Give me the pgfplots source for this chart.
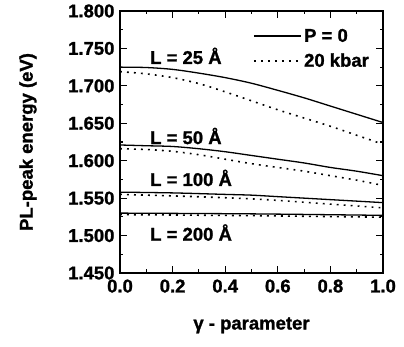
\documentclass[border=0pt]{standalone}
\usepackage{pgfplots}
\pgfplotsset{compat=1.18}
\usepackage{fontspec}
\setmainfont{Liberation Sans}[BoldFont={Liberation Sans Bold}, BoldFeatures={FakeBold=1.2}]
\begin{document}
\begin{tikzpicture}
\path[use as bounding box] (-120pt,-74pt) rectangle (284pt,273pt);
\begin{axis}[
  at={(0pt,0pt)}, anchor=south west,
  scale only axis, width=263pt, height=262pt,
  xmin=0, xmax=1, ymin=1.45, ymax=1.8,
  xtick={0,0.2,...,1.0}, minor xtick={0.1,0.3,...,0.9},
  ytick={1.45,1.5,...,1.8}, minor ytick={1.475,1.525,...,1.775},
  tick align=inside, major tick length=7pt, minor tick length=3.5pt,
  every tick/.style={black, line width=1.2pt},
  axis line style={line width=1.4pt},
  /pgf/number format/assume math mode=true,
  x tick label style={font=\fontsize{18.5}{20}\selectfont\bfseries, yshift=-3pt, /pgf/number format/.cd, fixed, fixed zerofill, precision=1},
  y tick label style={font=\fontsize{18.5}{20}\selectfont\bfseries, xshift=-2pt, /pgf/number format/.cd, fixed, fixed zerofill, precision=3},
  xlabel={\bfseries γ - parameter}, ylabel={\bfseries PL-peak energy (eV)},
  label style={font=\fontsize{18.5}{21}\selectfont\bfseries},
  xlabel style={at={(axis description cs:0.5,-0.2)}, anchor=center},
  ylabel style={at={(axis description cs:-0.35,0.5)}, anchor=center},
  legend style={draw=none, fill=none, at={(rel axis cs:0.505,0.942)}, anchor=north west,
    inner sep=0pt, row sep=5pt, font=\fontsize{18.5}{20}\selectfont\bfseries,
    nodes={inner sep=2.5pt}},
  legend cell align=left,
  legend image code/.code={\draw[#1] (0pt,0pt) -- (47pt,0pt);},
  solidl/.style={black, line width=1.3pt, smooth},
  dotl/.style={black, line width=1.6pt, dash pattern=on 1.8pt off 5.2pt, smooth},
]
\addplot[solidl] coordinates {(0,1.725) (0.1,1.7245) (0.2,1.722) (0.3,1.717) (0.4,1.711) (0.5,1.7035) (0.6,1.694) (0.7,1.684) (0.8,1.673) (0.9,1.662) (1.0,1.651)};
\addlegendentry{P = 0}
\addplot[dotl] coordinates {(0,1.719) (0.1,1.716) (0.2,1.711) (0.3,1.703) (0.4,1.692) (0.5,1.680) (0.6,1.668) (0.7,1.657) (0.8,1.646) (0.9,1.634) (1.0,1.622)};
\addlegendentry{20 kbar}
\addplot[solidl, forget plot] coordinates {(0,1.621) (0.1,1.620) (0.2,1.619) (0.3,1.616) (0.4,1.612) (0.5,1.607) (0.6,1.602) (0.7,1.597) (0.8,1.591) (0.9,1.586) (1.0,1.580)};
\addplot[dotl, forget plot] coordinates {(0,1.616) (0.1,1.615) (0.2,1.6125) (0.3,1.608) (0.4,1.602) (0.5,1.596) (0.6,1.591) (0.7,1.586) (0.8,1.580) (0.9,1.574) (1.0,1.567)};
\addplot[solidl, forget plot] coordinates {(0,1.558) (0.2,1.557) (0.4,1.555) (0.5,1.554) (0.6,1.552) (0.8,1.548) (1.0,1.544)};
\addplot[dotl, forget plot] coordinates {(0,1.555) (0.2,1.553) (0.4,1.5505) (0.5,1.549) (0.6,1.547) (0.8,1.542) (1.0,1.537)};
\addplot[solidl, forget plot] coordinates {(0,1.530) (0.5,1.529) (1.0,1.527)};
\addplot[dotl, forget plot] coordinates {(0,1.528) (0.5,1.5266) (1.0,1.5245)};
\node[anchor=west, inner sep=0pt, font=\fontsize{18.5}{20}\selectfont\bfseries] at (axis cs:0.114,1.740) {L = 25 Å};
\node[anchor=west, inner sep=0pt, font=\fontsize{18.5}{20}\selectfont\bfseries] at (axis cs:0.114,1.633) {L = 50 Å};
\node[anchor=west, inner sep=0pt, font=\fontsize{18.5}{20}\selectfont\bfseries] at (axis cs:0.114,1.577) {L = 100 Å};
\node[anchor=west, inner sep=0pt, font=\fontsize{18.5}{20}\selectfont\bfseries] at (axis cs:0.114,1.504) {L = 200 Å};
\end{axis}
\end{tikzpicture}
\end{document}
